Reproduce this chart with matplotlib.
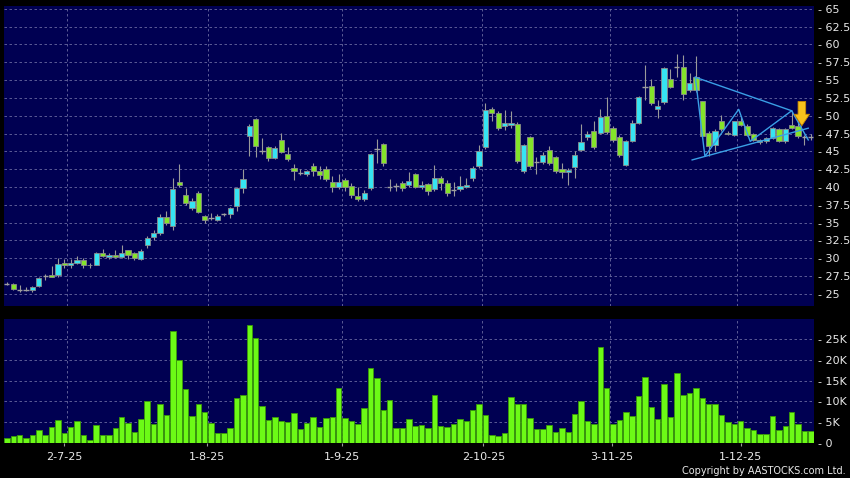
import numpy as np
import matplotlib
matplotlib.use('Agg')
import matplotlib.pyplot as plt
from matplotlib.ticker import FuncFormatter

# daily OHLC, one row per trading day (17-6-25 .. 16-12-25)
opens = [26.4, 26.4, 25.6, 25.6, 25.5, 26.1, 27.5, 27.6, 27.7, 29.4,
         29.1, 29.4, 29.8, 29.1, 29.1, 30.8, 30.2, 30.4, 30.2, 31.1,
         30.7, 29.9, 31.8, 33.0, 33.6, 35.8, 34.5, 40.7, 38.9, 37.0,
         39.1, 36.0, 35.6, 35.3, 36.2, 36.2, 37.4, 39.9, 47.1, 49.6,
         45.0, 45.6, 44.0, 46.6, 44.6, 42.6, 42.0, 41.8, 43.0, 42.3,
         42.5, 40.7, 40.0, 41.0, 40.1, 38.7, 38.3, 39.8, 45.3, 46.1,
         40.0, 40.1, 40.5, 40.25, 41.8, 40.05, 40.4, 39.7, 41.2, 40.6,
         39.6, 39.7, 40.0, 41.2, 42.9, 45.6, 50.9, 50.4, 48.5, 48.7,
         48.9, 42.3, 47.0, 43.5, 43.5, 45.2, 44.2, 42.5, 42.1, 42.8,
         45.2, 47.0, 47.8, 47.55, 49.9, 48.25, 47.0, 43.15, 46.5, 49.0,
         54.1, 54.2, 51.0, 51.9, 55.1, 56.9, 56.8, 53.6, 55.5, 52.0,
         47.55, 45.9, 49.2, 47.6, 47.3, 49.3, 48.6, 47.45, 46.3, 46.4,
         46.85, 48.1, 46.4, 48.7, 48.5, 47.0, 47.0]
highs = [26.6, 26.5, 26.3, 25.9, 26.1, 27.3, 27.8, 28.9, 30.0, 29.9,
         29.9, 30.3, 30.0, 29.3, 30.9, 31.3, 30.7, 31.1, 31.9, 31.2,
         30.9, 31.3, 33.1, 34.0, 36.2, 36.6, 41.3, 43.2, 39.9, 38.5,
         39.4, 36.1, 36.3, 36.2, 36.4, 37.2, 40.0, 42.5, 48.9, 49.7,
         46.9, 45.8, 45.7, 47.6, 45.6, 43.2, 42.5, 42.4, 43.4, 43.0,
         43.0, 41.6, 41.8, 41.2, 40.5, 40.0, 39.6, 44.8, 46.7, 46.2,
         41.1, 40.6, 40.9, 42.1, 41.9, 40.8, 40.5, 43.1, 41.5, 41.0,
         40.7, 41.6, 41.2, 42.9, 45.9, 51.8, 51.2, 50.7, 50.8, 50.6,
         49.1, 46.0, 47.2, 44.2, 44.9, 45.8, 44.3, 43.4, 42.6, 45.0,
         48.9, 47.9, 49.3, 50.9, 52.6, 48.5, 47.3, 46.6, 49.4, 52.7,
         57.1, 55.1, 52.2, 56.9, 56.5, 58.7, 58.5, 56.0, 58.4, 52.1,
         47.8, 48.2, 50.1, 47.8, 49.3, 50.0, 48.8, 47.6, 46.7, 47.0,
         48.4, 48.3, 48.3, 50.6, 49.5, 47.3, 47.4]
lows = [26.2, 25.5, 25.2, 25.4, 25.3, 25.9, 27.0, 27.3, 27.3, 28.6,
        28.6, 29.2, 28.6, 28.6, 29.0, 30.2, 29.9, 30.0, 30.1, 29.9,
        29.8, 29.8, 31.5, 32.6, 33.3, 34.7, 34.0, 40.0, 37.5, 36.8,
        36.3, 34.9, 35.3, 35.2, 36.0, 35.7, 36.6, 39.2, 44.3, 44.2,
        44.6, 43.7, 43.9, 44.8, 43.6, 41.0, 41.7, 41.6, 41.6, 41.1,
        40.9, 39.3, 39.7, 39.5, 38.5, 38.1, 38.0, 39.6, 43.4, 43.0,
        39.5, 39.5, 39.4, 40.0, 39.8, 39.7, 38.9, 39.5, 39.6, 38.7,
        38.7, 39.5, 39.8, 40.8, 42.6, 45.4, 49.2, 48.0, 48.0, 48.3,
        43.3, 42.0, 42.6, 41.8, 43.2, 43.1, 42.0, 41.3, 40.3, 41.3,
        45.0, 46.6, 45.4, 47.4, 47.5, 46.3, 44.2, 43.0, 46.3, 48.8,
        52.2, 51.5, 49.7, 51.7, 53.9, 55.5, 52.2, 53.4, 53.4, 46.9,
        44.4, 45.0, 47.9, 47.3, 47.1, 48.5, 47.1, 46.4, 46.1, 46.2,
        46.7, 46.3, 46.2, 48.2, 46.9, 45.9, 46.6]
closes = [26.4, 25.7, 25.6, 25.6, 25.9, 27.2, 27.5, 27.4, 29.2, 29.1,
          29.3, 29.8, 29.1, 29.0, 30.8, 30.3, 30.4, 30.2, 30.7, 30.4,
          30.0, 31.0, 32.8, 33.5, 35.8, 34.9, 39.7, 40.3, 37.7, 38.0,
          36.5, 35.3, 35.6, 36.0, 36.2, 37.0, 39.8, 41.1, 48.6, 45.8,
          45.0, 44.0, 45.5, 44.9, 43.9, 42.2, 42.0, 42.2, 42.3, 41.7,
          41.1, 40.0, 40.7, 40.0, 38.9, 38.3, 39.1, 44.7, 45.3, 43.3,
          40.0, 40.1, 39.8, 40.8, 40.0, 40.3, 39.4, 41.2, 40.5, 39.2,
          39.6, 40.2, 40.3, 42.6, 45.1, 50.8, 50.4, 48.3, 49.0, 49.0,
          43.7, 45.9, 42.9, 43.5, 44.5, 43.3, 42.2, 42.1, 42.4, 44.5,
          46.3, 47.45, 45.6, 49.8, 47.7, 46.6, 44.5, 46.5, 49.0, 52.6,
          54.1, 51.8, 51.4, 56.7, 54.0, 56.9, 53.0, 54.6, 53.6, 47.1,
          45.8, 47.9, 48.1, 47.5, 49.2, 48.7, 47.3, 46.6, 46.6, 46.9,
          48.25, 46.5, 48.1, 48.3, 47.1, 47.0, 47.0]
volume = [1.2, 1.75, 2.0, 1.3, 1.9, 3.2, 2.1, 3.9, 5.65, 2.4,
          3.9, 5.25, 2.1, 0.9, 4.4, 2.0, 2.0, 3.6, 6.3, 4.9,
          2.8, 5.8, 10.1, 4.6, 9.3, 6.8, 26.8, 19.8, 12.9, 6.6,
          9.3, 7.4, 4.9, 2.5, 2.5, 3.7, 10.9, 11.6, 28.3, 25.2,
          8.9, 5.65, 6.2, 5.4, 5.2, 7.2, 3.3, 4.8, 6.4, 3.9,
          6.1, 6.4, 13.1, 6.0, 5.3, 4.6, 8.4, 18.1, 15.5, 7.9,
          10.4, 3.7, 3.7, 5.8, 4.1, 4.3, 3.7, 11.5, 4.2, 4.0,
          4.5, 5.9, 5.3, 7.9, 9.4, 6.7, 2.0, 1.8, 2.5, 11.1,
          9.3, 9.4, 6.1, 3.5, 3.5, 4.4, 2.8, 3.7, 2.7, 7.0,
          10.0, 5.3, 4.5, 22.9, 13.2, 4.6, 5.6, 7.4, 6.5, 11.4,
          15.8, 8.7, 5.9, 14.1, 6.2, 16.7, 11.5, 11.9, 13.3, 10.8,
          9.4, 9.4, 6.8, 5.0, 4.5, 5.3, 3.6, 3.2, 2.2, 2.2,
          6.45, 3.2, 4.2, 7.4, 4.7, 2.9, 2.9]  # thousands

# first trading day of each month and its axis label
month_start = [10, 32, 53, 75, 95, 115]
month_labels = ['2-7-25', '1-8-25', '1-9-25', '2-10-25', '3-11-25', '1-12-25']
label_pos = [9.0, 31.35, 52.5, 74.7, 94.8, 115.0]

# drawn pattern: triangle borders and zigzag
upper_x, upper_y = [107.9, 123.0], [55.4, 50.7]
lower_x, lower_y = [107.4, 125.6], [43.8, 48.25]
zig_x = [107.9, 109.4, 114.7, 116.5, 123.0, 125.6]
zig_y = [55.4, 44.3, 50.9, 46.4, 50.7, 46.6]
signal_x, signal_top, signal_tip = 124.6, 52.0, 48.6

NAVY = '#000052'
GRID = '#6a6aa0'
TXT = '#e8e8e8'
CYAN = '#36e4f2'
LIME = '#84e42a'

o = np.array(opens); h = np.array(highs); l = np.array(lows); c = np.array(closes)
x = np.arange(len(o))
vol = np.array(volume) * 1000

fig = plt.figure(figsize=(8.5, 4.78), dpi=100, facecolor='black')
ax = fig.add_axes([4/850, 1-306/478, 810/850, 300/478], facecolor=NAVY)
axv = fig.add_axes([4/850, 1-443.3/478, 810/850, 124.3/478], facecolor=NAVY)

for a in (ax, axv):
    a.set_xlim(-0.45, 126.5)
    for s in a.spines.values():
        s.set_visible(False)
    a.yaxis.tick_right()
    a.tick_params(axis='y', length=0, pad=3, labelsize=8, labelcolor=TXT)
    for m in month_start:
        a.axvline(m - 0.5, color=GRID, lw=0.6, ls=(0, (3, 3)), zorder=0)

# price panel
ax.set_ylim(23.3, 65.4)
ax.set_yticks(np.arange(25, 65.1, 2.5))
ax.yaxis.set_major_formatter(FuncFormatter(lambda v, _: f'- {v:g}'))
ax.set_xticks([])
for v in np.arange(25, 65.1, 2.5):
    ax.axhline(v, color=GRID, lw=0.6, ls=(0, (3, 3)), zorder=0)

ax.vlines(x, l, h, color='#9a9a9a', lw=0.8, zorder=2)
up = c > o
dn = c < o
flat = c == o
ax.bar(x[up], (c - o)[up], bottom=o[up], width=0.82, color=CYAN,
       edgecolor='#8c8c8c', lw=0.6, zorder=3)
ax.bar(x[dn], (c - o)[dn], bottom=o[dn], width=0.82, color=LIME,
       edgecolor='#8c8c8c', lw=0.6, zorder=3)
ax.hlines(o[flat], x[flat] - 0.41, x[flat] + 0.41, color='#a0a0a0', lw=1.0, zorder=3)

ax.plot(upper_x, upper_y, color='#3a9fe6', lw=1.0, zorder=4)
ax.plot(lower_x, lower_y, color='#3a9fe6', lw=1.0, zorder=4)
ax.plot(zig_x, zig_y, color='#3a9fe6', lw=1.0, zorder=4)
ax.annotate('', xy=(signal_x, signal_tip), xytext=(signal_x, signal_top),
            arrowprops=dict(arrowstyle='simple,head_length=0.75,head_width=1.0,tail_width=0.5',
                            mutation_scale=11, fc='#f8c21c', ec='#c98800', lw=0.6,
                            shrinkA=0, shrinkB=0), zorder=5)

# volume panel
axv.set_ylim(0, 29700)
axv.set_yticks(np.arange(0, 25001, 5000))
axv.yaxis.set_major_formatter(FuncFormatter(lambda v, _: '- 0' if v == 0 else f'- {v/1000:g}K'))
for v in np.arange(5000, 25001, 5000):
    axv.axhline(v, color=GRID, lw=0.6, ls=(0, (3, 3)), zorder=0)
axv.bar(x, vol, width=0.86, color='#6cfa16', edgecolor='#3a9a08', lw=0.6, zorder=3)
axv.set_xticks(label_pos)
axv.set_xticklabels(month_labels)
axv.tick_params(axis='x', length=2.5, width=0.8, color='#9a9a9a', pad=4,
                labelsize=8, labelcolor=TXT)

fig.text(846/850, 1-471/478, 'Copyright by AASTOCKS.com Ltd.', ha='right', va='center',
         color=TXT, fontsize=7)

fig.savefig('out.png', dpi=100, facecolor='black')
